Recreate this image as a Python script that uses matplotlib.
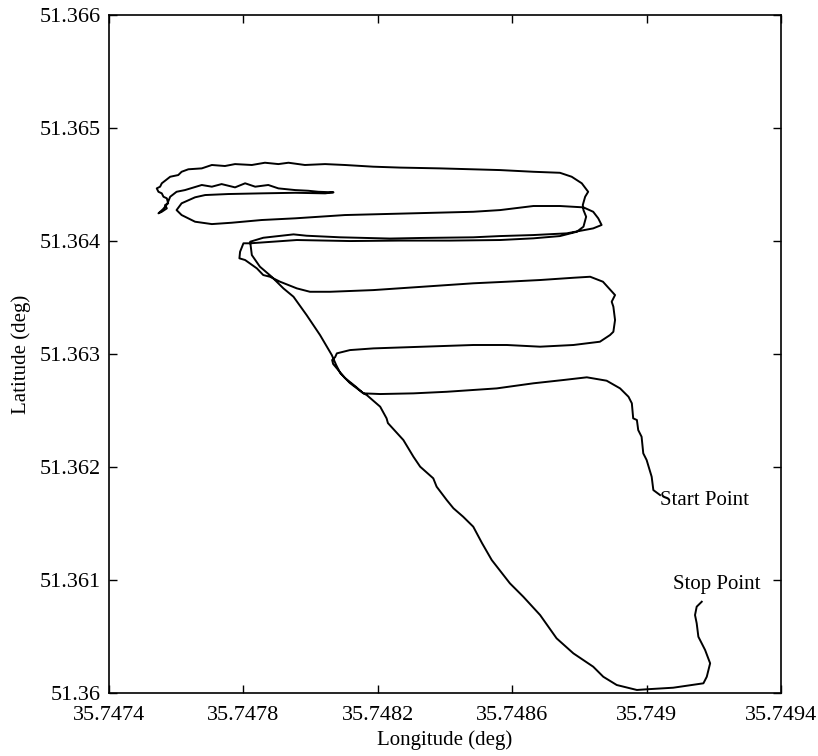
import matplotlib
matplotlib.use("Agg")
import matplotlib.pyplot as plt

plt.rcParams['font.family'] = ['Liberation Serif', 'DejaVu Serif']
plt.rcParams['mathtext.fontset'] = 'stix'

# GPS track (deg), from start point to stop point
lon = [
    # start -> right edge -> lower leg
    35.749040, 35.749020, 35.749015, 35.749000, 35.748990, 35.748985, 35.748975,
    35.748971, 35.748960, 35.748956, 35.748946, 35.748921, 35.748881, 35.748822,
    35.748752, 35.748663, 35.748554, 35.748405, 35.748306, 35.748207, 35.748157,
    # loop, second leg, turn, third leg
    35.748132, 35.748102, 35.748082, 35.748067, 35.748064, 35.748073, 35.748078,
    35.748117, 35.748187, 35.748335, 35.748484, 35.748584, 35.748683, 35.748782,
    35.748861, 35.748891, 35.748901, 35.748906, 35.748901, 35.748896, 35.748906,
    35.748870, 35.748832, 35.748782, 35.748683, 35.748584, 35.748484, 35.748335,
    35.748187, 35.748058, 35.747998, 35.747959, 35.747909, 35.747879, 35.747859,
    35.747840, 35.747805, 35.747788, 35.747790, 35.747800,
    # fourth leg, up to top leg
    35.747820, 35.747959, 35.748117, 35.748266, 35.748415, 35.748564, 35.748663,
    35.748742, 35.748792, 35.748812, 35.748820, 35.748812, 35.748810, 35.748817,
    35.748826, 35.748807, 35.748777, 35.748742, 35.748663, 35.748564,
    # top leg (wavy) and left hook
    35.748385, 35.748266, 35.748186, 35.748102, 35.748043, 35.747983, 35.747934,
    35.747904, 35.747864, 35.747825, 35.747775, 35.747745, 35.747706, 35.747676,
    35.747636, 35.747616, 35.747606, 35.747582, 35.747567, 35.747557, 35.747552,
    35.747542, 35.747547, 35.747557, 35.747562, 35.747572, 35.747576, 35.747567,
    35.747572, 35.747557, 35.747547, 35.747561, 35.747573, 35.747582,
    # short wavy leg
    35.747601, 35.747626, 35.747676, 35.747706, 35.747735, 35.747775, 35.747805,
    35.747835, 35.747874, 35.747904, 35.747954, 35.747993, 35.748023, 35.748068,
    # oval
    35.748043, 35.747954, 35.747854, 35.747755, 35.747686, 35.747656, 35.747616,
    35.747601, 35.747616, 35.747656, 35.747706, 35.747765, 35.747854, 35.747954,
    35.748102, 35.748484, 35.748564, 35.748663, 35.748742, 35.748812, 35.748841,
    35.748856, 35.748866, 35.748841, 35.748762, 35.748663, 35.748564, 35.748484,
    35.748326, 35.748236, 35.748088, 35.747988, 35.747949, 35.747859, 35.747820,
    # diagonal down to the stop point
    35.747825, 35.747849, 35.747884, 35.747919, 35.747949, 35.747988, 35.748028,
    35.748063, 35.748076, 35.748088, 35.748117, 35.748156, 35.748167, 35.748207,
    35.748226, 35.748230, 35.748276, 35.748306, 35.748326, 35.748365, 35.748375,
    35.748405, 35.748425, 35.748454, 35.748484, 35.748510, 35.748539, 35.748593,
    35.748633, 35.748683, 35.748732, 35.748782, 35.748841, 35.748871, 35.748911,
    35.748971, 35.749000, 35.749079, 35.749169, 35.749179, 35.749189, 35.749174,
    35.749154, 35.749149, 35.749144, 35.749149, 35.749164,
]
lat = [
    51.361752, 51.361796, 51.361914, 51.362062, 51.362121, 51.362268, 51.362327,
    51.362416, 51.362431, 51.362564, 51.362622, 51.362696, 51.362764, 51.362794,
    51.362770, 51.362741, 51.362696, 51.362666, 51.362652, 51.362646, 51.362652,
    51.362717, 51.362788, 51.362858, 51.362912, 51.362947, 51.362973, 51.363006,
    51.363035, 51.363050, 51.363065, 51.363080, 51.363080, 51.363065, 51.363080,
    51.363109, 51.363168, 51.363197, 51.363301, 51.363419, 51.363463, 51.363522,
    51.363640, 51.363684, 51.363675, 51.363655, 51.363640, 51.363626, 51.363596,
    51.363566, 51.363551, 51.363551, 51.363581, 51.363640, 51.363684, 51.363699,
    51.363758, 51.363832, 51.363847, 51.363905, 51.363980,
    51.363980, 51.364009, 51.364000, 51.364004, 51.364004, 51.364009, 51.364024,
    51.364044, 51.364082, 51.364127, 51.364215, 51.364274, 51.364319, 51.364392,
    51.364436, 51.364511, 51.364569, 51.364604, 51.364613, 51.364628,
    51.364643, 51.364650, 51.364658, 51.364673, 51.364681, 51.364673, 51.364693,
    51.364681, 51.364693, 51.364673, 51.364681, 51.364664, 51.364673, 51.364643,
    51.364635, 51.364613, 51.364584, 51.364569, 51.364534, 51.364511, 51.364481,
    51.364466, 51.364436, 51.364422, 51.364392, 51.364378, 51.364334, 51.364319,
    51.364289, 51.364259, 51.364245, 51.364283, 51.364327, 51.364392,
    51.364436, 51.364451, 51.364496, 51.364481, 51.364504, 51.364475, 51.364511,
    51.364481, 51.364496, 51.364466, 51.364451, 51.364445, 51.364436, 51.364431,
    51.364422, 51.364427, 51.364422, 51.364416, 51.364407, 51.364387, 51.364334,
    51.364274, 51.364230, 51.364171, 51.364150, 51.364162, 51.364186, 51.364201,
    51.364230, 51.364259, 51.364274, 51.364310, 51.364310, 51.364298, 51.364259,
    51.364201, 51.364142, 51.364112, 51.364068, 51.364053, 51.364044, 51.364033,
    51.364027, 51.364022, 51.364033, 51.364047, 51.364059, 51.364029, 51.363994,
    51.363876, 51.363773, 51.363684, 51.363581, 51.363507, 51.363345, 51.363168,
    51.362991, 51.362903, 51.362832, 51.362743, 51.362655, 51.362637, 51.362534,
    51.362431, 51.362389, 51.362239, 51.362091, 51.362003, 51.361900, 51.361826,
    51.361708, 51.361635, 51.361560, 51.361472, 51.361327, 51.361177, 51.360971,
    51.360852, 51.360690, 51.360484, 51.360351, 51.360233, 51.360144, 51.360071,
    51.360027, 51.360033, 51.360047, 51.360086, 51.360144, 51.360263, 51.360381,
    51.360498, 51.360617, 51.360690, 51.360764, 51.360808,
]

xtick_vals = [35.7474, 35.7478, 35.7482, 35.7486, 35.7490, 35.7494]
xtick_labels = ['35.7474', '35.7478', '35.7482', '35.7486', '35.749', '35.7494']
ytick_vals = [51.360, 51.361, 51.362, 51.363, 51.364, 51.365, 51.366]
ytick_labels = ['51.36', '51.361', '51.362', '51.363', '51.364', '51.365', '51.366']

fig = plt.figure(figsize=(8.18, 7.56), dpi=100)
ax = fig.add_axes([0.1333, 0.0833, 0.8215, 0.8968])

ax.plot(lon, lat, color='black', linewidth=1.4)

ax.text(35.74904, 51.36170, 'Start Point', fontsize=15, ha='left', va='center')
ax.text(35.74921, 51.36096, 'Stop Point', fontsize=15, ha='center', va='center')

ax.set_xlim(xtick_vals[0], xtick_vals[-1])
ax.set_ylim(ytick_vals[0], ytick_vals[-1])
ax.set_xticks(xtick_vals)
ax.set_xticklabels(xtick_labels)
ax.set_yticks(ytick_vals)
ax.set_yticklabels(ytick_labels)
ax.tick_params(direction='in', top=True, right=True, length=6, width=1.0,
               labelsize=16)
ax.tick_params(axis='x', pad=9)
ax.tick_params(axis='y', pad=6)
for sp in ax.spines.values():
    sp.set_linewidth(1.2)

ax.set_xlabel('Longitude (deg)', fontsize=15, labelpad=4)
ax.set_ylabel('Latitude (deg)', fontsize=15, labelpad=6)

fig.savefig('out.png', dpi=100)
